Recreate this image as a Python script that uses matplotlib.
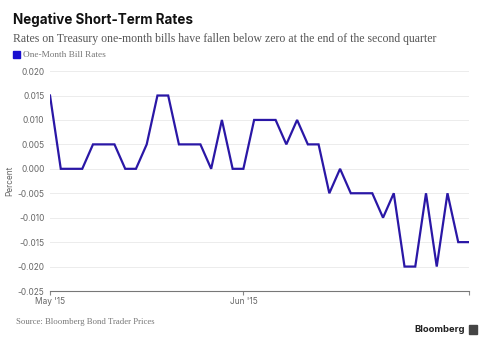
import matplotlib.pyplot as plt
from matplotlib.patches import Rectangle

# one-month bill rates, one value per observation (uniform spacing)
rates = [0.015, 0.000, 0.000, 0.000, 0.005, 0.005, 0.005, 0.000, 0.000, 0.005,
         0.015, 0.015, 0.005, 0.005, 0.005, 0.000, 0.010, 0.000, 0.000, 0.010,
         0.010, 0.010, 0.005, 0.010, 0.005, 0.005, -0.005, 0.000, -0.005, -0.005,
         -0.005, -0.010, -0.005, -0.020, -0.020, -0.005, -0.020, -0.005, -0.015, -0.015]
month_ticks = [0, 18]
month_labels = ["May '15", "Jun '15"]
y_ticks = [-0.025, -0.020, -0.015, -0.010, -0.005, 0.000, 0.005, 0.010, 0.015, 0.020]

line_color = '#2a17a6'
grey = '#666666'

fig = plt.figure(figsize=(4.88, 3.45), dpi=100)
ax = fig.add_axes([0.1025, 0.1565, 0.8585, 0.6375])

x = list(range(len(rates)))
ax.plot(x, rates, color=line_color, lw=1.6, solid_joinstyle='miter', zorder=3)

ax.set_xlim(0, len(rates) - 1)
ax.set_ylim(-0.025, 0.020)
ax.set_yticks(y_ticks)
ax.set_yticklabels([f"{v:.3f}" for v in y_ticks], fontsize=6, color=grey,
                   family='Inter')
ax.set_xticks(month_ticks + [len(rates) - 1])
ax.set_xticklabels(month_labels + [''], fontsize=6, color=grey, family='Inter')
ax.tick_params(axis='y', length=0, pad=4)
ax.tick_params(axis='x', length=3, color='#888888', pad=1)

ax.grid(axis='y', color='#ececec', lw=0.7)
for s in ['top', 'right', 'left']:
    ax.spines[s].set_visible(False)
ax.spines['bottom'].set_color('#777777')
ax.spines['bottom'].set_linewidth(0.8)
ax.set_ylabel('Percent', fontsize=6, color=grey, family='Inter', labelpad=2)

fig.text(0.027, 0.942, 'Negative Short-Term Rates', fontsize=9.7, weight='bold',
         family='Inter', color='#111111', va='center')
fig.text(0.027, 0.888, 'Rates on Treasury one-month bills have fallen below zero at the end of the second quarter',
         fontsize=8.5, family='Liberation Serif', color='#555555', va='center')
fig.patches.append(Rectangle((0.027, 0.832), 0.014, 0.02, transform=fig.transFigure,
                             color='#1a0fd0', figure=fig))
fig.text(0.047, 0.841, 'One-Month Bill Rates', fontsize=6.7, family='Liberation Serif',
         color='#777777', va='center')
fig.text(0.033, 0.067, 'Source: Bloomberg Bond Trader Prices', fontsize=6.3,
         family='Liberation Serif', color='#777777', va='center')
fig.text(0.953, 0.045, 'Bloomberg', fontsize=6.8, weight='bold', family='Inter',
         color='#222222', va='center', ha='right')
fig.patches.append(Rectangle((0.962, 0.032), 0.016, 0.026, transform=fig.transFigure,
                             color='#444444', figure=fig))

fig.savefig('out.png', dpi=100)
